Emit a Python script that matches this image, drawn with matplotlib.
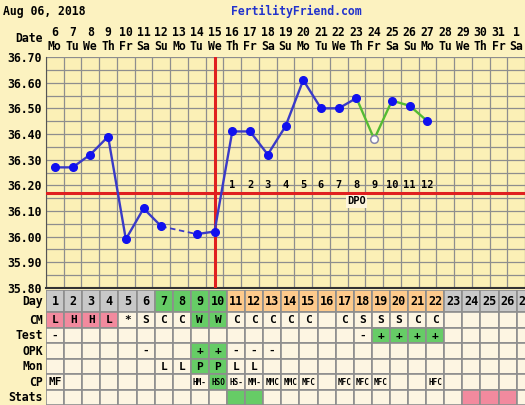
import matplotlib
matplotlib.use("Agg")
import matplotlib.pyplot as plt
import matplotlib.transforms as mtransforms
from matplotlib.patches import Rectangle

# dates shown on the chart (Aug 6 -> Sep 1)
day_of_month = [6, 7, 8, 9, 10, 11, 12, 13, 14, 15, 16, 17, 18, 19, 20,
                21, 22, 23, 24, 25, 26, 27, 28, 29, 30, 31, 1]
weekdays = ["Mo", "Tu", "We", "Th", "Fr", "Sa", "Su"] * 3 + ["Mo", "Tu", "We", "Th", "Fr", "Sa"]
cycle_day = list(range(1, 28))

# temperatures (None = no reading)
temps = [36.27, 36.27, 36.32, 36.39, 35.99, 36.11, 36.04, None, 36.01, 36.02,
         36.41, 36.41, 36.32, 36.43, 36.61, 36.50, 36.50, 36.54, 36.38, 36.53,
         36.51, 36.45]
coverline = 36.17
ovulation_idx = 9
discarded_idx = 18
green_from = 17
dpo_labels = [str(n) for n in range(1, 13)]

# day row phases
day_phase = ["gray"] * 6 + ["green"] * 4 + ["orange"] * 12 + ["gray"] * 5

cm = ["L", "H", "H", "L", "*", "S", "C", "C", "W", "W", "C", "C", "C", "C",
      "C", "", "C", "S", "S", "S", "C", "C"]
cm_color = {0: "pink", 1: "pink", 2: "pink", 3: "pink", 8: "green", 9: "green"}
test = {0: "-", 17: "-", 18: "+", 19: "+", 20: "+", 21: "+"}
opk = {5: "-", 8: "+", 9: "+", 10: "-", 11: "-", 12: "-"}
mon = {6: "L", 7: "L", 8: "P", 9: "P", 10: "L", 11: "L"}
cp = {0: "MF", 8: "HM-", 9: "HSO", 10: "HS-", 11: "MM-", 12: "MMC", 13: "MMC",
      14: "MFC", 16: "MFC", 17: "MFC", 18: "MFC", 21: "HFC"}
stats_color = {10: "green", 11: "green", 23: "pink", 24: "pink", 25: "pink"}

row_names = ["Day", "CM", "Test", "OPK", "Mon", "CP", "Stats"]

colors = {"gray": "#c8c8c8", "green": "#66cc66", "orange": "#fdca8c",
          "pink": "#f28a9e", "cell": "#fdf5e2"}
BG = "#fcf2c0"
PLOT_BG = "#fbf0b6"
BLUE = "#3a3ac8"
DOT = "#1111ee"
GREEN = "#55bb33"
RED = "#e02020"
GRID = "#8e8e8e"
FONT = "DejaVu Sans Mono"

W, H = 525, 405
col_w = 18.1
left_px, top_px, bot_px = 46, 57, 288
ncols_vis = (W - left_px) / col_w

fig = plt.figure(figsize=(W / 100, H / 100), dpi=100, facecolor=BG)

# --- temperature axes ---
ax = fig.add_axes([left_px / W, (H - bot_px) / H, (W - left_px) / W, (bot_px - top_px) / H])
ax.set_facecolor(PLOT_BG)
ax.set_xlim(-0.5, -0.5 + ncols_vis)
ax.set_ylim(35.80, 36.70)
yt = [35.80 + 0.1 * k for k in range(10)]
ax.set_yticks(yt)
ax.set_yticklabels(["%.2f" % v for v in yt], fontfamily=FONT, fontweight="bold", fontsize=8.3)
ax.set_yticks([35.85 + 0.1 * k for k in range(9)], minor=True)
ax.set_xticks([i - 0.5 for i in range(len(day_of_month) + 1)], minor=True)
ax.set_xticks([])
ax.tick_params(which="both", length=0, pad=3)
ax.grid(which="both", color=GRID, linewidth=0.9)
ax.set_axisbelow(True)
for s in ax.spines.values():
    s.set_visible(False)
ax.spines["bottom"].set_visible(True)
ax.spines["bottom"].set_color("#333333")
ax.spines["bottom"].set_linewidth(1.5)
ax.spines["left"].set_visible(True)
ax.spines["left"].set_color("#555555")

# coverline and ovulation line
ax.axhline(coverline, color=RED, linewidth=2.2, zorder=3)
ax.axvline(ovulation_idx, color=RED, linewidth=2.2, zorder=3)

# temperature line segments
xs = [i for i, t in enumerate(temps) if t is not None]
solid_runs = []
run = []
for i, t in enumerate(temps[:green_from + 1]):
    if t is None:
        if run:
            solid_runs.append(run)
        run = []
    else:
        run.append(i)
solid_runs.append(run)
for r in solid_runs:
    ax.plot(r, [temps[i] for i in r], color=BLUE, linewidth=1.7, zorder=4)
# dashed line over the missing reading
for a, b in zip(solid_runs[:-1], solid_runs[1:]):
    ax.plot([a[-1], b[0]], [temps[a[-1]], temps[b[0]]], color=BLUE,
            linewidth=1.3, linestyle=(0, (3, 2)), zorder=4)
gx = list(range(green_from, len(temps)))
ax.plot(gx, [temps[i] for i in gx], color=GREEN, linewidth=1.7, zorder=4)

mx = [i for i in xs if i != discarded_idx]
ax.plot(mx, [temps[i] for i in mx], "o", color=DOT, markersize=5.5, zorder=5)
ax.plot([discarded_idx], [temps[discarded_idx]], "o", markerfacecolor="white",
        markeredgecolor="#8888aa", markeredgewidth=1.1, markersize=5.5, zorder=5)

# DPO labels
for k, lab in enumerate(dpo_labels):
    ax.text(ovulation_idx + 1 + k, coverline + 0.012, lab, ha="center", va="bottom",
            fontfamily=FONT, fontweight="bold", fontsize=7.5, zorder=6)
ax.text(17, coverline - 0.012, "DPO", ha="center", va="top", fontfamily=FONT,
        fontweight="bold", fontsize=7.5, zorder=6,
        bbox=dict(boxstyle="square,pad=0.15", facecolor="#fdf5dc", edgecolor="none"))

# date header
tr = mtransforms.blended_transform_factory(ax.transData, fig.transFigure)
for i, (d, wd) in enumerate(zip(day_of_month, weekdays)):
    ax.text(i, (H - 33) / H, str(d), transform=tr, ha="center", va="center",
            fontfamily=FONT, fontweight="bold", fontsize=8.3, clip_on=False)
    ax.text(i, (H - 46) / H, wd, transform=tr, ha="center", va="center",
            fontfamily=FONT, fontweight="bold", fontsize=8.3, clip_on=False)
fig.text(43 / W, (H - 39) / H, "Date", ha="right", va="center",
         fontfamily=FONT, fontweight="bold", fontsize=8.3)
fig.text(3 / W, (H - 11) / H, "Aug 06, 2018", ha="left", va="center",
         fontfamily=FONT, fontweight="bold", fontsize=8.3)
fig.text(231 / W, (H - 11) / H, "FertilityFriend.com", ha="left", va="center",
         fontfamily=FONT, fontweight="bold", fontsize=8.3, color="#2233cc")

# --- table axes ---
table_top = 290
row_h = [22] + [15.5] * 6
ax2 = fig.add_axes([left_px / W, 0, (W - left_px) / W, (H - table_top) / H])
ax2.set_xlim(-0.5, -0.5 + ncols_vis)
ax2.set_ylim(sum(row_h), 0)
ax2.axis("off")

edges = [0]
for h in row_h:
    edges.append(edges[-1] + h)


def cell(r, i, color_key, text="", size=8, weight="bold"):
    ax2.add_patch(Rectangle((i - 0.5, edges[r]), 1, row_h[r],
                            facecolor=colors[color_key], edgecolor=GRID,
                            linewidth=1.2, clip_on=True))
    if text:
        ax2.text(i, (edges[r] + edges[r + 1]) / 2 + 0.5, text, ha="center", va="center",
                 fontfamily=FONT, fontweight=weight, fontsize=size)


n = len(day_of_month)
for i in range(n):
    cell(0, i, day_phase[i], str(cycle_day[i]), size=8.5)
    cm_txt = cm[i] if i < len(cm) else ""
    cell(1, i, cm_color.get(i, "cell"), cm_txt)
    t = test.get(i, "")
    cell(2, i, "green" if t == "+" else "cell", t)
    o = opk.get(i, "")
    cell(3, i, "green" if o == "+" else "cell", o)
    m = mon.get(i, "")
    cell(4, i, "green" if m == "P" else "cell", m)
    c = cp.get(i, "")
    cell(5, i, "green" if c == "HSO" else "cell", c, size=5.5 if len(c) > 2 else 8)
    cell(6, i, stats_color.get(i, "cell"))

tr2 = mtransforms.blended_transform_factory(fig.transFigure, ax2.transData)
for r, name in enumerate(row_names):
    fig.text(43 / W, (edges[r] + edges[r + 1]) / 2 + 0.5, name, transform=tr2,
             ha="right", va="center", fontfamily=FONT, fontweight="bold", fontsize=8.3)

fig.savefig("out.png", dpi=100, facecolor=BG)
